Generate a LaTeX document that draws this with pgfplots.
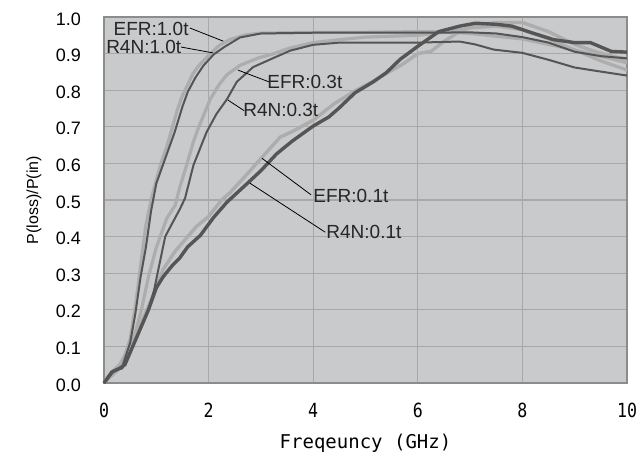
\documentclass[border=0pt]{standalone}
\usepackage{fontspec}
\setmainfont{Liberation Sans}
\newfontfamily\monofont{DejaVu Sans Mono}
\newfontfamily\narrowmono[FakeStretch=0.85]{DejaVu Sans Mono}
\usepackage{pgfplots}
\pgfplotsset{compat=1.18}

\definecolor{plotbg}{HTML}{C9CACC}
\definecolor{gridgray}{HTML}{A8A8A8}
\definecolor{framegray}{HTML}{8C8C8C}
\definecolor{darkcurve}{HTML}{555555}
\definecolor{lightcurve}{HTML}{ADADAD}

\begin{document}
\begin{tikzpicture}
\begin{axis}[
    scale only axis,
    width=523bp, height=366bp,
    xmin=0, xmax=10, ymin=0, ymax=1,
    xtick={0,2,...,10},
    ytick={0,0.1,...,1.0},
    major tick length=0pt,
    grid=major,
    grid style={gridgray, line width=1.2bp},
    axis line style={framegray, line width=1.2bp},
    axis background/.style={fill=plotbg},
    /pgf/number format/assume math mode=true,
    yticklabel style={/pgf/number format/fixed, /pgf/number format/fixed zerofill, /pgf/number format/precision=1},
    yticklabel style={font=\fontsize{18bp}{20bp}\selectfont, anchor=east, inner sep=0pt, xshift=-23bp, yshift=-2bp},
    xticklabel style={font=\narrowmono\fontsize{19.5bp}{21bp}\selectfont, anchor=center, inner sep=0pt, yshift=-27bp},
    xlabel={Freqeuncy (GHz)},
    ylabel={P(loss)/P(in)},
    xlabel style={font=\monofont\fontsize{19bp}{21bp}\selectfont, at={(axis description cs:0.5,-0.165)}, anchor=center, inner sep=0pt},
    ylabel style={font=\fontsize{16bp}{18bp}\selectfont, at={(axis description cs:-0.134,0.5)}, anchor=center, inner sep=0pt},
    clip=false,
]
% EFR curves (light gray) first
\addplot[lightcurve, line width=3.2bp] coordinates {
(0,0.0) (0.2,0.035) (0.35,0.055) (0.5,0.12) (0.6,0.21) (0.7,0.32) (0.8,0.43) (0.9,0.5)
(1.0,0.555) (1.1,0.605) (1.2,0.645) (1.3,0.695) (1.4,0.745) (1.5,0.785) (1.6,0.815) (1.7,0.845)
(1.8,0.865) (2.0,0.895) (2.2,0.922) (2.4,0.938) (2.7,0.951) (3,0.956) (4,0.958) (5,0.958)
(6,0.96) (6.5,0.96) (7,0.955) (8,0.94) (9,0.91) (10,0.875)
};
\addplot[lightcurve, line width=3.2bp] coordinates {
(0,0.0) (0.3,0.04) (0.5,0.09) (0.7,0.19) (0.85,0.29) (1.0,0.37) (1.1,0.41) (1.2,0.45)
(1.36,0.485) (1.45,0.535) (1.58,0.595) (1.7,0.655) (1.8,0.695) (2.03,0.775) (2.2,0.815)
(2.35,0.842) (2.6,0.868) (2.95,0.888) (3.25,0.9) (3.55,0.915) (4,0.93) (4.5,0.938)
(5,0.945) (6,0.95) (6.6,0.96) (7,0.97) (7.5,0.975) (8,0.965) (8.5,0.94) (9,0.91)
(9.5,0.88) (10,0.855)
};
\addplot[lightcurve, line width=3.4bp] coordinates {
(0,0.0) (0.15,0.03) (0.3,0.05) (0.5,0.1) (0.7,0.16) (0.85,0.21) (1.0,0.26) (1.13,0.31)
(1.36,0.36) (1.6,0.4) (1.77,0.428) (2.0,0.455) (2.25,0.5) (2.41,0.52) (2.7,0.565)
(2.98,0.61) (3.37,0.672) (3.6,0.687) (4.0,0.718) (4.4,0.763) (4.8,0.798) (5.15,0.825)
(5.45,0.85) (5.7,0.87) (6.0,0.90) (6.25,0.906) (6.5,0.933) (6.75,0.956) (7.05,0.975)
(7.5,0.985) (8.0,0.985) (8.5,0.96) (9.0,0.925) (9.4,0.905) (9.8,0.89) (10,0.885)
};
% R4N curves (dark gray)
\addplot[darkcurve, line width=2bp] coordinates {
(0,0.0) (0.2,0.035) (0.35,0.045) (0.5,0.11) (0.6,0.19) (0.7,0.29) (0.8,0.37) (0.9,0.47)
(1.0,0.545) (1.1,0.585) (1.2,0.625) (1.35,0.685) (1.5,0.755) (1.6,0.795) (1.75,0.835)
(1.9,0.867) (2.1,0.898) (2.3,0.918) (2.6,0.944) (3,0.955) (4,0.957) (5,0.957) (6,0.957)
(7,0.958) (7.5,0.955) (8,0.945) (8.5,0.93) (9,0.905) (9.5,0.893) (10,0.887)
};
\addplot[darkcurve, line width=2bp] coordinates {
(0,0.0) (0.2,0.035) (0.35,0.04) (0.55,0.1) (0.7,0.15) (0.85,0.2) (0.96,0.255)
(1.01,0.29) (1.17,0.4) (1.3,0.435) (1.45,0.475) (1.55,0.505) (1.71,0.595) (1.96,0.685)
(2.15,0.735) (2.35,0.775) (2.54,0.823) (2.85,0.863) (3.24,0.888) (3.56,0.908) (4.0,0.924)
(4.5,0.93) (5,0.93) (6,0.93) (6.8,0.933) (7.1,0.925) (7.45,0.911) (8,0.902) (8.5,0.883)
(9.0,0.862) (9.4,0.853) (10,0.84)
};
\addplot[darkcurve, line width=3.4bp] coordinates {
(0,0.0) (0.15,0.03) (0.3,0.04) (0.4,0.05) (0.55,0.1) (0.7,0.15) (0.85,0.2) (1.0,0.26)
(1.13,0.29) (1.3,0.32) (1.45,0.342) (1.6,0.372) (1.84,0.403) (2.1,0.453) (2.35,0.494)
(2.7,0.54) (3.0,0.58) (3.3,0.626) (3.6,0.661) (4.0,0.702) (4.3,0.727) (4.5,0.752)
(4.8,0.793) (5.15,0.823) (5.4,0.848) (5.66,0.884) (6.0,0.92) (6.4,0.96) (6.8,0.975)
(7.1,0.983) (7.5,0.98) (7.8,0.975) (8.2,0.956) (8.6,0.938) (9.0,0.93) (9.3,0.93)
(9.7,0.906) (10,0.904)
};
% labels and leader lines
\begin{scope}[every node/.style={font=\fontsize{19bp}{21bp}\selectfont, inner sep=0pt, anchor=center, text=black!85}]
\node at (axis cs:0.90,0.968) {EFR:1.0t};
\node at (axis cs:0.76,0.917) {R4N:1.0t};
\node at (axis cs:3.84,0.823) {EFR:0.3t};
\node at (axis cs:3.38,0.745) {R4N:0.3t};
\node at (axis cs:4.72,0.512) {EFR:0.1t};
\node at (axis cs:4.97,0.412) {R4N:0.1t};
\end{scope}
\begin{scope}[black, line width=0.8bp]
\draw (axis cs:1.64,0.970) -- (axis cs:2.28,0.934);
\draw (axis cs:1.47,0.918) -- (axis cs:2.08,0.902);
\draw (axis cs:2.56,0.855) -- (axis cs:3.15,0.823);
\draw (axis cs:2.37,0.773) -- (axis cs:2.68,0.744);
\draw (axis cs:3.02,0.614) -- (axis cs:3.96,0.514);
\draw (axis cs:2.79,0.546) -- (axis cs:4.23,0.412);
\end{scope}
\end{axis}
\pgfresetboundingbox
\path[use as bounding box] (current axis.south west) ++(-104bp,-72bp) rectangle ++(639bp,455bp);
\end{tikzpicture}
\end{document}
